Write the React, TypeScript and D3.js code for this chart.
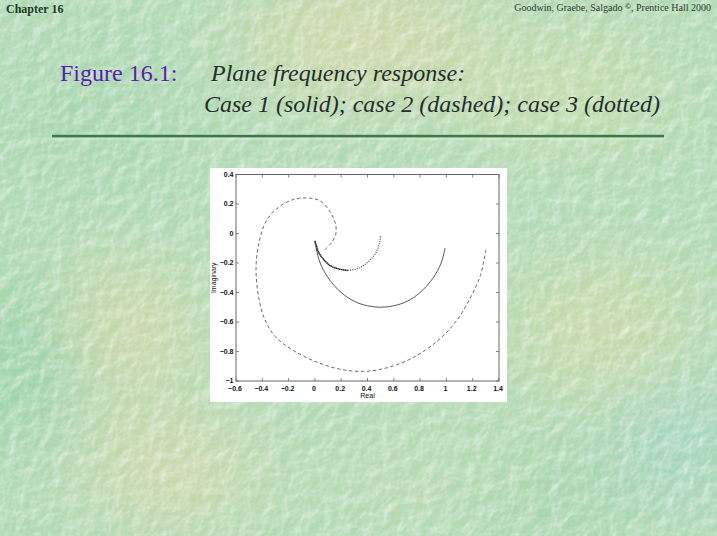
import React, { useEffect, useRef } from "react";
import * as d3 from "d3";

// Nyquist points: [real, imaginary]
const solidCase: [number, number][] = [
  [0.99, -0.1], [0.96, -0.2], [0.9, -0.3], [0.8, -0.4], [0.7, -0.46], [0.6, -0.49],
  [0.5, -0.5], [0.4, -0.49], [0.3, -0.46], [0.2, -0.4], [0.1, -0.3], [0.04, -0.2],
  [0.01, -0.1], [0.0, -0.05],
];
const dashedCase: [number, number][] = [
  [1.3, -0.11], [1.26, -0.28], [1.18, -0.44], [1.07, -0.6], [0.93, -0.73], [0.75, -0.84],
  [0.55, -0.91], [0.37, -0.935], [0.19, -0.92], [0.01, -0.87], [-0.17, -0.79], [-0.3, -0.7],
  [-0.385, -0.575], [-0.435, -0.39], [-0.447, -0.21], [-0.422, -0.05], [-0.37, 0.085],
  [-0.28, 0.175], [-0.167, 0.23], [-0.066, 0.241], [0.036, 0.223], [0.112, 0.151],
  [0.158, 0.06], [0.158, -0.008], [0.125, -0.064], [0.075, -0.11],
];
const dottedCase: [number, number][] = [
  [0.5, -0.02], [0.49, -0.07], [0.47, -0.12], [0.43, -0.17], [0.38, -0.21], [0.32, -0.24],
  [0.25, -0.25], [0.18, -0.24], [0.12, -0.22], [0.07, -0.18], [0.03, -0.13], [0.01, -0.08],
  [0.0, -0.05],
];
// the high-frequency end of case 3 is drawn so densely it reads as a thick line
const dottedDenseFrom = 6;

const xTicks = [-0.6, -0.4, -0.2, 0, 0.2, 0.4, 0.6, 0.8, 1, 1.2, 1.4];
const yTicks = [-1, -0.8, -0.6, -0.4, -0.2, 0, 0.2, 0.4];

const W = 717;
const H = 536;
const fig = { x: 210, y: 168, w: 297, h: 234 };
const plot = { left: 236, right: 499, top: 174.5, bottom: 381 };

const fmt = (v: number) => (v === 0 ? "0" : d3.format("")(v).replace("-", "\u2212"));

const Chart = () => {
  const gRef: any = useRef();

  useEffect(() => {
    const g = d3.select(gRef.current);
    g.selectAll("*").remove();

    const x = d3.scaleLinear().domain([-0.6, 1.4]).range([plot.left, plot.right]);
    const y = d3.scaleLinear().domain([-1, 0.4]).range([plot.bottom, plot.top]);

    g.append("rect")
      .attr("x", fig.x).attr("y", fig.y).attr("width", fig.w).attr("height", fig.h)
      .attr("fill", "#ffffff");

    const line = d3.line<[number, number]>()
      .x((d) => x(d[0]))
      .y((d) => y(d[1]))
      .curve(d3.curveCatmullRom.alpha(0.5));

    g.append("path").datum(dashedCase).attr("d", line)
      .attr("fill", "none").attr("stroke", "#6a6a6a").attr("stroke-width", 1)
      .attr("stroke-dasharray", "3.5,2.5");
    g.append("path").datum(solidCase).attr("d", line)
      .attr("fill", "none").attr("stroke", "#444").attr("stroke-width", 0.9);
    g.append("path").datum(dottedCase.slice(0, dottedDenseFrom + 1)).attr("d", line)
      .attr("fill", "none").attr("stroke", "#333").attr("stroke-width", 1.1)
      .attr("stroke-dasharray", "1,1.3");
    g.append("path").datum(dottedCase.slice(dottedDenseFrom)).attr("d", line)
      .attr("fill", "none").attr("stroke", "#222").attr("stroke-width", 1.5)
      .attr("stroke-dasharray", "1.5,0.3");

    // box with inside ticks on all sides
    g.append("rect")
      .attr("x", plot.left).attr("y", plot.top)
      .attr("width", plot.right - plot.left).attr("height", plot.bottom - plot.top)
      .attr("fill", "none").attr("stroke", "#555").attr("stroke-width", 0.9);

    const tk = 3;
    const ticks = g.append("g").attr("stroke", "#666").attr("stroke-width", 0.8);
    xTicks.forEach((t) => {
      ticks.append("line").attr("x1", x(t)).attr("x2", x(t)).attr("y1", plot.bottom).attr("y2", plot.bottom - tk);
      ticks.append("line").attr("x1", x(t)).attr("x2", x(t)).attr("y1", plot.top).attr("y2", plot.top + tk);
    });
    yTicks.forEach((t) => {
      ticks.append("line").attr("y1", y(t)).attr("y2", y(t)).attr("x1", plot.left).attr("x2", plot.left + tk);
      ticks.append("line").attr("y1", y(t)).attr("y2", y(t)).attr("x1", plot.right).attr("x2", plot.right - tk);
    });

    const lab = g.append("g")
      .attr("font-family", "'Liberation Sans', Arial, sans-serif")
      .attr("font-size", 7).attr("fill", "#111").attr("font-weight", "bold");
    lab.selectAll(".xl").data(xTicks).join("text").attr("class", "xl")
      .attr("x", (d) => x(d) - 1).attr("y", plot.bottom + 10)
      .attr("text-anchor", "middle").text((d) => fmt(d));
    lab.selectAll(".yl").data(yTicks).join("text").attr("class", "yl")
      .attr("x", plot.left - 2.5).attr("y", (d) => y(d) + 2.3)
      .attr("text-anchor", "end").text((d) => fmt(d));
    lab.append("text").attr("x", (plot.left + plot.right) / 2).attr("y", plot.bottom + 17)
      .attr("text-anchor", "middle").attr("font-weight", "normal").text("Real");
    lab.append("text")
      .attr("transform", `translate(${plot.left - 20},${(plot.top + plot.bottom) / 2}) rotate(-90)`)
      .attr("text-anchor", "middle").attr("font-weight", "normal").text("Imaginary");
  }, []);

  return <g ref={gRef} />;
};

export default function App() {
  const serif = "'Liberation Serif', 'Times New Roman', serif";
  return (
    <svg width={W} height={H} style={{ position: "absolute", left: 0, top: 0, display: "block" }}>
      <defs>
        <filter id="blur" x="-50%" y="-50%" width="200%" height="200%">
          <feGaussianBlur stdDeviation="40" />
        </filter>
        <filter id="paper" x="0" y="0" width="100%" height="100%">
          <feTurbulence type="fractalNoise" baseFrequency="0.07" numOctaves="3" seed="4" result="n" />
          <feDiffuseLighting in="n" surfaceScale="3" lightingColor="#ffffff" result="l">
            <feDistantLight azimuth="225" elevation="50" />
          </feDiffuseLighting>
          <feColorMatrix in="l" type="matrix"
            values="0 0 0 0 1  0 0 0 0 1  0 0 0 0 1  -1.4 0 0 0 1.3" />
        </filter>
        <filter id="shadow" x="-5%" y="-200%" width="110%" height="500%">
          <feGaussianBlur stdDeviation="1" />
        </filter>
      </defs>
      <rect width={W} height={H} fill="#b0d9b3" />
      <g filter="url(#blur)" opacity={0.8}>
        <ellipse cx={360} cy={40} rx={120} ry={50} fill="#dcd7a4" />
        <ellipse cx={120} cy={330} rx={80} ry={60} fill="#d6d8a6" />
        <ellipse cx={170} cy={470} rx={90} ry={50} fill="#d8d8aa" />
        <ellipse cx={600} cy={330} rx={90} ry={60} fill="#cfd9a4" />
        <ellipse cx={20} cy={360} rx={60} ry={80} fill="#92d0a8" />
        <ellipse cx={680} cy={440} rx={70} ry={60} fill="#a0d4c2" />
        <ellipse cx={560} cy={90} rx={110} ry={50} fill="#c9dca8" />
        <ellipse cx={90} cy={120} rx={100} ry={60} fill="#a4d5ad" />
        <ellipse cx={420} cy={480} rx={110} ry={50} fill="#bbdab3" />
        <ellipse cx={560} cy={500} rx={80} ry={40} fill="#a2d3a8" />
      </g>
      <rect width={W} height={H} filter="url(#paper)" opacity={0.6} />

      <text x={6} y={13} fontFamily={serif} fontWeight="bold" fontSize={12} fill="#1c3a22">Chapter 16</text>
      <text x={711} y={11} textAnchor="end" fontFamily={serif} fontSize={10} fill="#2c3e30">
        Goodwin, Graebe, Salgado <tspan fontSize={8} fontWeight="bold" dy={-2}>©</tspan><tspan dy={2}>, Prentice Hall 2000</tspan>
      </text>

      <text x={60} y={81} fontFamily={serif} fontSize={24} fill="#5a1fb0">Figure 16.1:</text>
      <text x={211} y={81} fontFamily={serif} fontStyle="italic" fontSize={24} fill="#1f2f2a">Plane frequency response:</text>
      <text x={204} y={112} fontFamily={serif} fontStyle="italic" fontSize={24} fill="#1f2f2a">
        Case 1 (solid); case 2 (dashed); case 3 (dotted)
      </text>

      <rect x={53} y={137} width={612} height={2} fill="#e4f0dc" opacity={0.8} filter="url(#shadow)" />
      <rect x={52} y={134.8} width={612} height={2.6} fill="#3d7a4b" />

      <Chart />
    </svg>
  );
}
